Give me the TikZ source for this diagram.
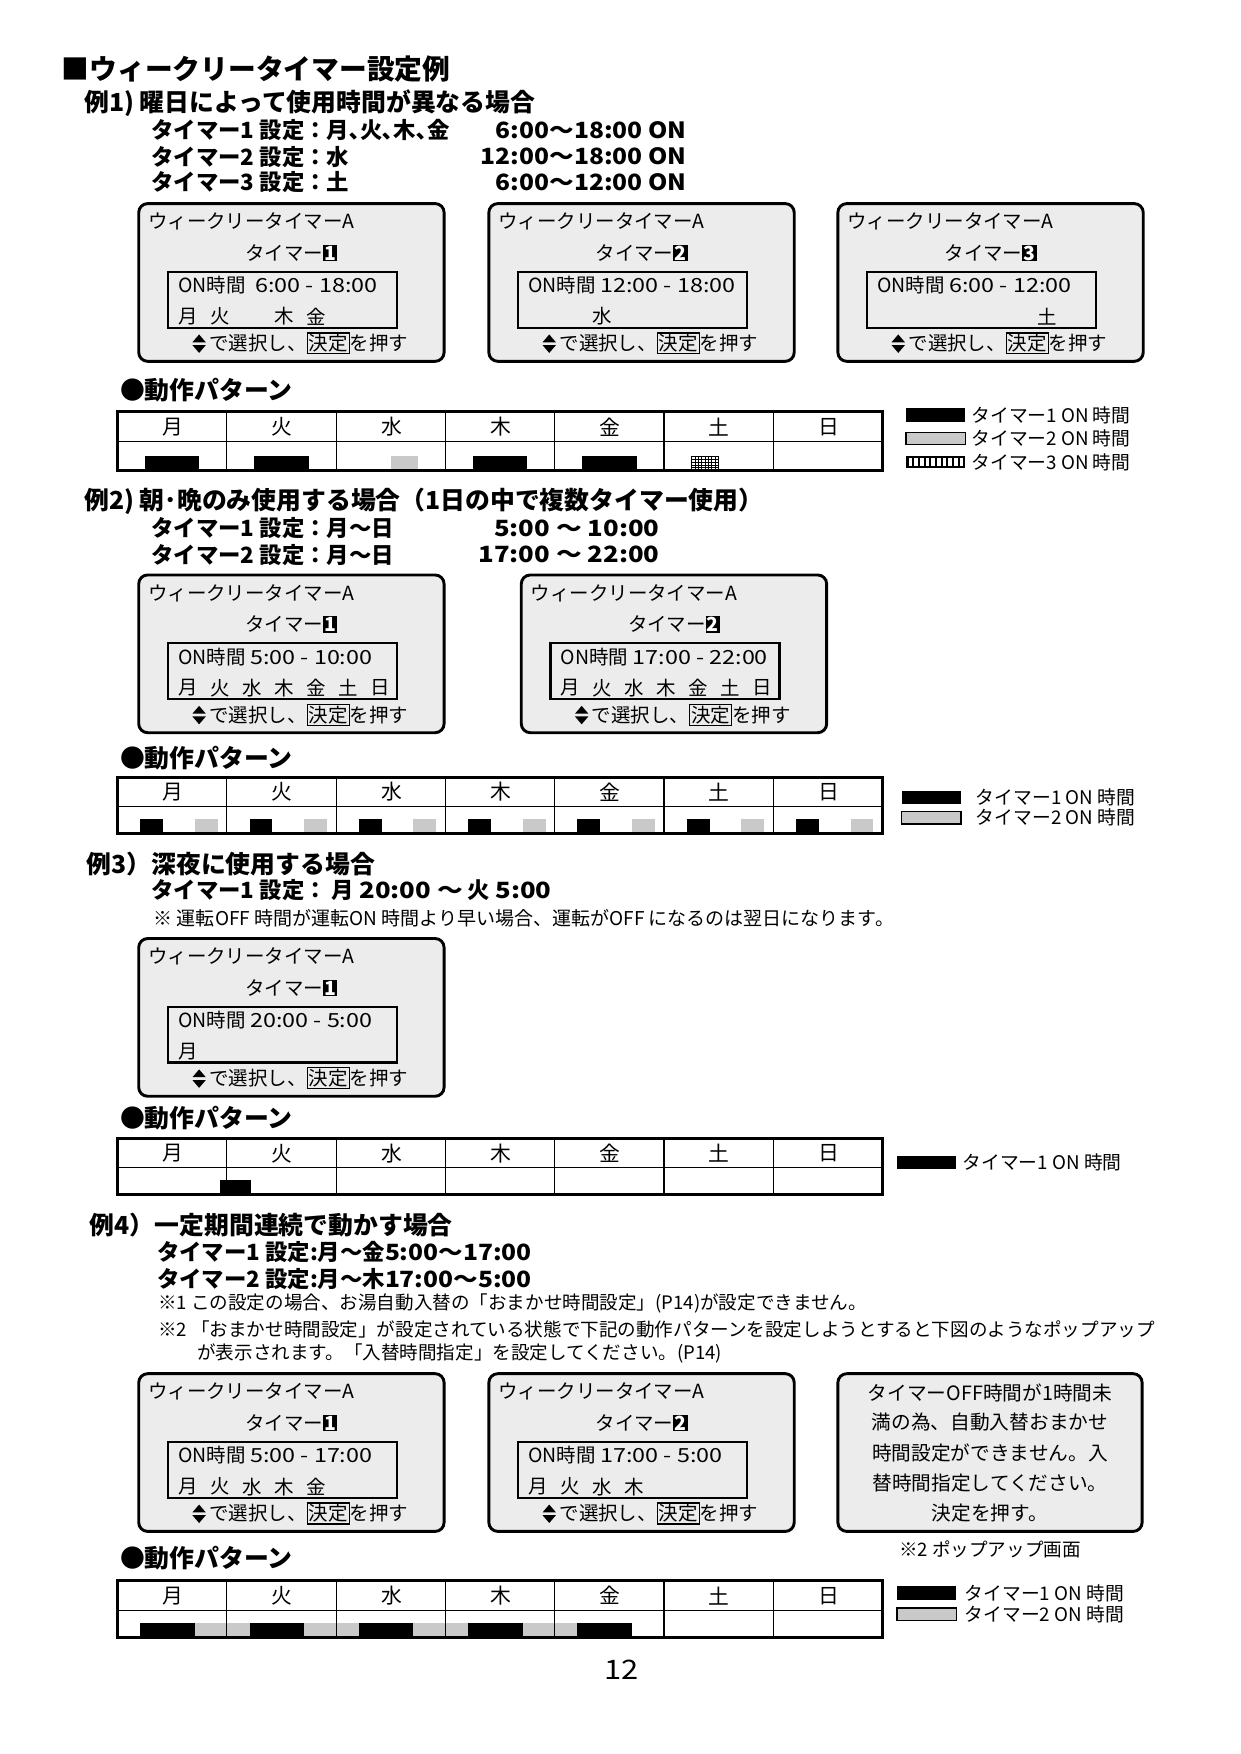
\documentclass[tikz,border=0pt]{standalone}
\usepackage{fontspec}
\setmainfont{Noto Sans CJK JP}
\setlength\fboxsep{0.4pt}
\setlength\fboxrule{0.5pt}
\newcommand\fTitle{\fontsize{12.4pt}{14pt}\selectfont\bfseries}
\newcommand\fHead{\fontsize{11.1pt}{13pt}\selectfont\bfseries}
\newcommand\fSet{\fontsize{10pt}{12pt}\selectfont\bfseries}
\newcommand\fBox{\fontsize{8.7pt}{10pt}\selectfont}
\newcommand\fNote{\fontsize{8.3pt}{10pt}\selectfont}
\newcommand\fDay{\fontsize{9.3pt}{10pt}\selectfont}
\newcommand\fLeg{\fontsize{8.4pt}{10pt}\selectfont}
\newcommand\fPop{\fontsize{8.8pt}{10pt}\selectfont}
\newcommand\wdg[1]{{\addfontfeature{FakeStretch=1.15}#1}}
\newcommand\wdgs[1]{{\addfontfeature{FakeStretch=1.1}#1}}
\newcommand\wdgb[1]{{\addfontfeature{FakeStretch=1.2}#1}}
\newcommand\digitbox[1]{{\setlength\fboxsep{0.5pt}\colorbox{black}{\textcolor{white}{\bfseries #1}}}}
\definecolor{panelgray}{gray}{0.925}
\definecolor{bargray}{gray}{0.79}
\tikzset{
  panel/.style={draw, line width=1.3pt, fill=panelgray, rounded corners=4pt},
  innerbox/.style={draw, line width=1.1pt},
  txt/.style={inner sep=0pt, anchor=west},
  ctxt/.style={inner sep=0pt},
  thin line/.style={line width=0.5pt},
  frame line/.style={line width=1.3pt}
}
% screen box: #1 x, #2 y, #3 digit, #4 line1, #5 day slots, #6 name
\newcommand\scrn[6]{%
  \draw[panel] (#1,#2) rectangle ++(273,141);
  \draw[innerbox] ({#1+26},{#2+61}) rectangle ++(205,50);
  \node[txt,font=\fBox] (#6-h) at ({#1+8},{#2+16}) {ウィークリータイマーA};
  \node[ctxt,font=\fBox] (#6-t) at ({#1+136.5},{#2+44}) {タイマー\digitbox{#3}};
  \node[txt,font=\fBox] (#6-l) at ({#1+35},{#2+73}) {ON時間 \wdgb{#4}};
  \foreach \s/\c in {#5} {\node[txt,font=\fBox] (#6-d\s) at ({#1+35+28.6*\s},{#2+101}) {\c};}
  \node[ctxt,font=\fBox] (#6-b) at ({#1+152},{#2+125}) {で選択し、\fbox{決定}を押す};
  \fill ({#1+48},{#2+124}) -- ++(12,0) -- ++(-6,-7) -- cycle;
  \fill ({#1+48},{#2+126.5}) -- ++(12,0) -- ++(-6,7) -- cycle;
}
% table: #1 top, #2 mid, #3 bottom, #4 name
\newcommand\wtable[4]{%
  \draw[thin line] (105,#2) -- (789,#2);
  \foreach \i in {1,...,6} {\draw[thin line] ({105+97.714*\i},#1) -- ({105+97.714*\i},#3);}
  \foreach \i/\d in {0/月,1/火,2/水,3/木,4/金,5/土,6/日}
    {\node[ctxt,font=\fDay] (#4-\i) at ({105+97.714*\i+49.5},{(#1+#2)/2}) {\d};}
  \draw[frame line] (105,#1) rectangle (789,#3);
}
% bar: #1 style, #2 day, #3 hour, #4 day, #5 hour, #6 bottom
\newcommand\tbar[6]{%
  \fill[#1] ({105+97.714*#2+4.0714*#3},{#6-13}) rectangle ({105+97.714*#4+4.0714*#5},#6);
}
% legend: #1 x, #2 y, #3 kind, #4 text, #5 name, #6 text x
\newcommand\lgd[6]{%
  \ifcase#3
    \fill (#1,{#2-6}) rectangle ({#1+53},{#2+6});
  \or
    \draw[fill=bargray, line width=0.6pt] (#1,{#2-5.5}) rectangle ({#1+53},{#2+5.5});
  \or
    \fill (#1,{#2-5.5}) rectangle ({#1+53},{#2+5.5});
    \foreach \k in {0,...,9} {\fill[white] ({#1+2.2+5.1*\k},{#2-3.5}) rectangle ({#1+5.4+5.1*\k},{#2+3.5});}
  \fi
  \node[txt,font=\fLeg] (#5) at (#6,#2) {#4};
}
\begin{document}
\begin{tikzpicture}[x=0.5pt,y=-0.5pt]
\useasboundingbox[fill=white] (0,0) rectangle (1109,1568);

% ---------- title
\node[txt,font=\fTitle] (title) at (55,62) {■ウィークリータイマー設定例};

% ---------- example 1
\node[txt,font=\fHead] (e1) at (75,92) {例1) 曜日によって使用時間が異なる場合};
\node[txt,font=\fSet] (e1s1) at (135,116) {タイマー1 設定：月､火､木､金};
\node[txt,font=\fSet] (e1s2) at (135,140) {タイマー2 設定：水};
\node[txt,font=\fSet] (e1s3) at (135,163) {タイマー3 設定：土};
\node[ctxt,anchor=east,font=\fSet] (e1t1) at (614,116) {\wdgs{6:00〜18:00 ON}};
\node[ctxt,anchor=east,font=\fSet] (e1t2) at (614,140) {\wdgs{12:00〜18:00 ON}};
\node[ctxt,anchor=east,font=\fSet] (e1t3) at (614,163) {\wdgs{6:00〜12:00 ON}};

\scrn{124}{182}{1}{\ 6:00 - 18:00}{0/月,1/火,3/木,4/金}{a1}
\scrn{437}{182}{2}{12:00 - 18:00}{2/水}{a2}
\scrn{749}{182}{3}{6:00 - 12:00}{5/土}{a3}

\node[txt,font=\fHead] (p1) at (107,349) {●動作パターン};
\foreach \d in {0,1,3,4} {\tbar{black}{\d}{6}{\d}{18}{421}}
\tbar{bargray}{2}{12}{2}{18}{421}
\fill[white] ({105+97.714*5+4.0714*6},408) rectangle ({105+97.714*5+4.0714*12},421);
\foreach \k in {0,...,8} {\draw[line width=0.45pt] ({105+97.714*5+4.0714*6+0.3+3.03*\k},408) -- ++(0,13);}
\foreach \k in {0,...,5} {\draw[line width=0.45pt] ({105+97.714*5+4.0714*6},{408.3+2.5*\k}) -- ++(24.4,0);}
\wtable{368}{395}{421}{t1}
\lgd{810}{371}{0}{タイマー1 ON 時間}{l1a}{868}
\lgd{810}{392}{1}{タイマー2 ON 時間}{l1b}{868}
\lgd{810}{413}{2}{タイマー3 ON 時間}{l1c}{868}

% ---------- example 2
\node[txt,font=\fHead] (e2) at (75,448) {例2) 朝･晩のみ使用する場合（1日の中で複数タイマー使用）};
\node[txt,font=\fSet] (e2s1) at (135,472) {タイマー1 設定：月〜日};
\node[txt,font=\fSet] (e2s2) at (135,496) {タイマー2 設定：月〜日};
\node[ctxt,anchor=east,font=\fSet] (e2t1) at (590,472) {\wdg{5:00 〜 10:00}};
\node[ctxt,anchor=east,font=\fSet] (e2t2) at (590,496) {\wdg{17:00 〜 22:00}};

\scrn{124}{514}{1}{5:00 - 10:00}{0/月,1/火,2/水,3/木,4/金,5/土,6/日}{b1}
\scrn{466}{514}{2}{17:00 - 22:00}{0/月,1/火,2/水,3/木,4/金,5/土,6/日}{b2}

\node[txt,font=\fHead] (p2) at (107,678) {●動作パターン};
\foreach \d in {0,...,6} {\tbar{black}{\d}{5}{\d}{10}{745}\tbar{bargray}{\d}{17}{\d}{22}{745}}
\wtable{695}{721}{745}{t2}
\lgd{806}{713}{0}{タイマー1 ON 時間}{l2a}{872}
\lgd{806}{731}{1}{タイマー2 ON 時間}{l2b}{872}

% ---------- example 3
\node[txt,font=\fHead] (e3) at (77,772) {例3）深夜に使用する場合};
\node[txt,font=\fSet] (e3s1) at (135,796) {タイマー1 設定： 月 \wdg{20:00 〜} 火 \wdg{5:00}};
\node[txt,font=\fontsize{8.5pt}{10pt}\selectfont] (e3n) at (137,821) {※ 運転OFF 時間が運転ON 時間より早い場合、運転がOFF になるのは翌日になります。};

\scrn{124}{839}{1}{20:00 - 5:00}{0/月}{c1}

\node[txt,font=\fHead] (p3) at (107,1000) {●動作パターン};
\tbar{black}{0}{22.5}{1}{5.3}{1068}
\wtable{1018}{1044}{1068}{t3}
\lgd{802}{1039}{0}{タイマー1 ON 時間}{l3a}{860}

% ---------- example 4
\node[txt,font=\fHead] (e4) at (80,1095) {例4）一定期間連続で動かす場合};
\node[txt,font=\fSet] (e4s1) at (140,1119) {タイマー1 設定:月〜金\wdgs{5:00〜17:00}};
\node[txt,font=\fSet] (e4s2) at (140,1143) {タイマー2 設定:月〜木\wdgs{17:00〜5:00}};
\node[txt,font=\fNote] (e4n1) at (141,1165) {※1 この設定の場合、お湯自動入替の「おまかせ時間設定」(P14)が設定できません。};
\node[txt,font=\fNote] (e4n2) at (141,1188) {※2 「おまかせ時間設定」が設定されている状態で下記の動作パターンを設定しようとすると下図のようなポップアップ};
\node[txt,font=\fNote] (e4n3) at (176,1210) {が表示されます。「入替時間指定」を設定してください。(P14)};

\scrn{124}{1228}{1}{5:00 - 17:00}{0/月,1/火,2/水,3/木,4/金}{d1}
\scrn{437}{1228}{2}{17:00 - 5:00}{0/月,1/火,2/水,3/木}{d2}

\draw[panel] (749,1228) rectangle ++(272,141);
\node[ctxt,font=\fPop] (pop1) at (885,1245) {タイマーOFF時間が1時間未};
\node[ctxt,font=\fPop] (pop2) at (885,1271) {満の為、自動入替おまかせ};
\node[ctxt,font=\fPop] (pop3) at (885,1299) {時間設定ができません。入};
\node[ctxt,font=\fPop] (pop4) at (885,1326) {替時間指定してください。};
\node[ctxt,font=\fPop] (pop5) at (885,1353) {決定を押す。};
\node[ctxt,font=\fNote] (popc) at (885,1385) {※2 ポップアップ画面};

\node[txt,font=\fHead] (p4) at (107,1393) {●動作パターン};
\foreach \d in {0,...,4} {\tbar{black}{\d}{5}{\d}{17}{1464}}
\foreach \d [evaluate=\d as \e using int(\d+1)] in {0,...,3} {\tbar{bargray}{\d}{17}{\e}{5}{1464}}
\wtable{1413}{1440}{1464}{t4}
\lgd{802}{1424}{0}{タイマー1 ON 時間}{l4a}{862}
\lgd{802}{1443}{1}{タイマー2 ON 時間}{l4b}{862}

% ---------- page number
\node[ctxt,font=\fontsize{12pt}{13pt}\selectfont] (pg) at (556,1493) {\wdg{12}};
\end{tikzpicture}
\end{document}
